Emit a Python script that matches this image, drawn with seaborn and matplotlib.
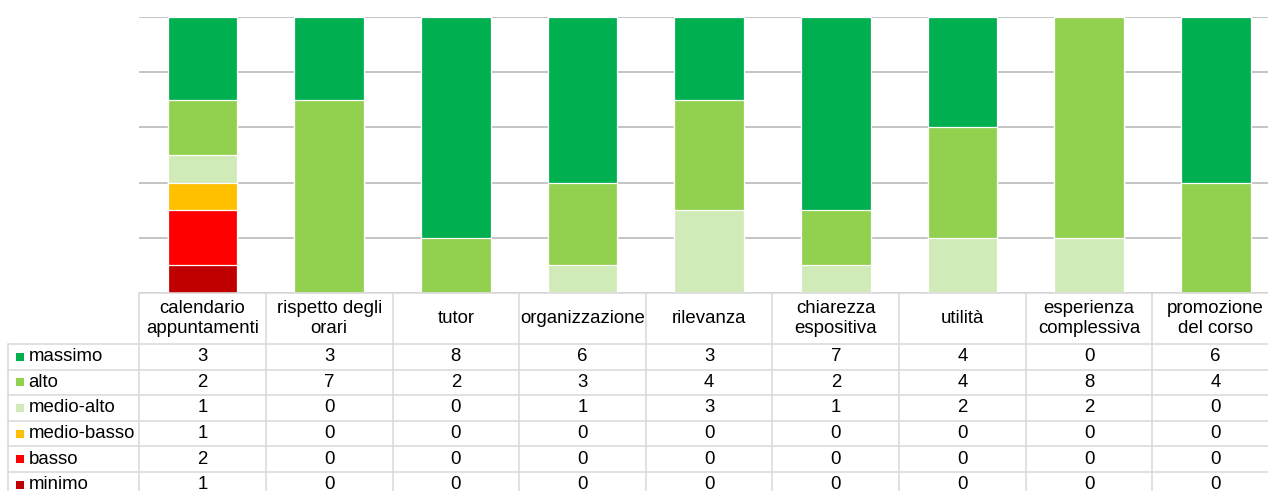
import matplotlib
matplotlib.use("Agg")
import matplotlib.pyplot as plt
import numpy as np
import pandas as pd
import seaborn as sns

# ---- data -------------------------------------------------------------
categories = [
    "calendario\nappuntamenti", "rispetto degli\norari", "tutor",
    "organizzazione", "rilevanza", "chiarezza\nespositiva", "utilità",
    "esperienza\ncomplessiva", "promozione\ndel corso",
]
levels = ["massimo", "alto", "medio-alto", "medio-basso", "basso", "minimo"]

massimo = [3, 3, 8, 6, 3, 7, 4, 0, 6]
alto = [2, 7, 2, 3, 4, 2, 4, 8, 4]
medio_alto = [1, 0, 0, 1, 3, 1, 2, 2, 0]
medio_basso = [1, 0, 0, 0, 0, 0, 0, 0, 0]
basso = [2, 0, 0, 0, 0, 0, 0, 0, 0]
minimo = [1, 0, 0, 0, 0, 0, 0, 0, 0]

level_colors = ["#00B050", "#92D050", "#D1EBB8", "#FFC000", "#FF0000", "#C00000"]

df = pd.DataFrame({
    "categoria": categories,
    "massimo": massimo,
    "alto": alto,
    "medio-alto": medio_alto,
    "medio-basso": medio_basso,
    "basso": basso,
    "minimo": minimo,
})

# cumulative heights, stacking from "minimo" at the bottom up to "massimo"
bottom_up = levels[::-1]
cum = df[bottom_up].cumsum(axis=1)
for lv in levels:
    df["cum_" + lv] = cum[lv]

# ---- figure layout (pixel based) ---------------------------------------
W, H = 1268, 491
DPI = 100
sns.set_theme(style="white")
plt.rcParams["font.family"] = ["Liberation Sans", "DejaVu Sans"]

fig = plt.figure(figsize=(W / DPI, H / DPI), dpi=DPI)
fig.patch.set_facecolor("white")

col_w = 126.65
x_left = 139.2
plot_top, plot_bot = 17, 293
ax = fig.add_axes([x_left / W, (H - plot_bot) / H,
                   len(categories) * col_w / W, (plot_bot - plot_top) / H])
ax.patch.set_alpha(0)

# stacked bars: tallest cumulative first, each lower level drawn over it
for lv, colr in zip(levels, level_colors):
    sns.barplot(data=df, x="categoria", y="cum_" + lv, order=categories,
                color=colr, saturation=1, width=0.55, errorbar=None,
                edgecolor="white", linewidth=0.9, ax=ax, zorder=3)

ax.set_xlim(-0.5, len(categories) - 0.5)
ax.set_ylim(0, 10)
ax.set_yticks(np.arange(0, 11, 2))
ax.yaxis.grid(True, color="#BFBFBF", linewidth=1.3)
ax.set_axisbelow(True)
ax.tick_params(labelbottom=False, labelleft=False, length=0)
ax.set_xlabel("")
ax.set_ylabel("")
sns.despine(ax=ax, left=True, bottom=True)

# ---- data table under the bars -----------------------------------------
ov = fig.add_axes([0, 0, 1, 1], zorder=5)
ov.set_xlim(0, W)
ov.set_ylim(0, H)
ov.axis("off")


def Y(y_from_top):
    return H - y_from_top


centers = [ax.transData.transform((i, 0))[0] for i in range(len(categories))]
edges = [c - col_w / 2 for c in centers] + [centers[-1] + col_w / 2]

line_c = "#D9D9D9"
line_w = 1.1
label_left = 8
header_top, header_bot = 293, 344
row_h = 25.6
row_tops = [header_bot + k * row_h for k in range(len(levels) + 1)]
y_end = row_tops[-1]

# horizontal rules
ov.plot([edges[0], edges[-1]], [Y(header_top)] * 2, color=line_c, lw=line_w)
for yt in row_tops:
    ov.plot([label_left, edges[-1]], [Y(yt)] * 2, color=line_c, lw=line_w)
# vertical rules
ov.plot([label_left] * 2, [Y(header_bot), Y(y_end)], color=line_c, lw=line_w)
for xe in edges:
    ov.plot([xe] * 2, [Y(header_top), Y(y_end)], color=line_c, lw=line_w)

fs = 13.4
# column headers
for xc, cat in zip(centers, categories):
    ov.text(xc, Y((header_top + header_bot) / 2), cat, ha="center",
            va="center", fontsize=fs, color="#000000", linespacing=1.22)

# rows: legend key, level name and counts
for k, (lv, colr) in enumerate(zip(levels, level_colors)):
    yc = Y(row_tops[k] + row_h / 2)
    ov.scatter([19.7], [yc], marker="s", s=30, color=colr, linewidths=0)
    ov.text(28.5, yc, lv, ha="left", va="center", fontsize=fs, color="#000000")
    for xc, v in zip(centers, df[lv]):
        ov.text(xc, yc, str(v), ha="center", va="center", fontsize=fs,
                color="#000000")

fig.savefig("out.png", dpi=DPI, facecolor="white")
